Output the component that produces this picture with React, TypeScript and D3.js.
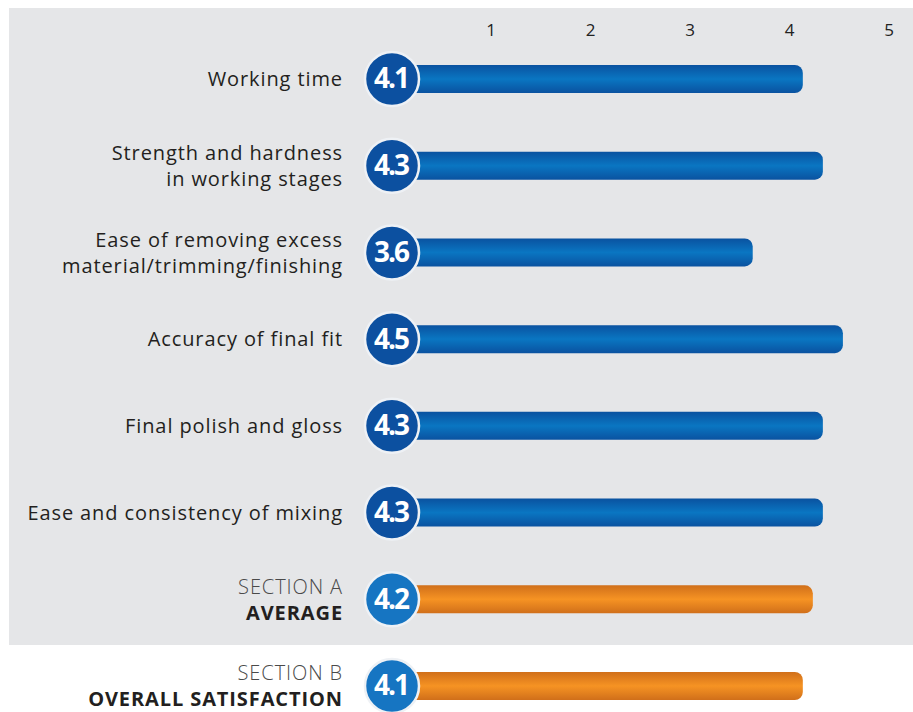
import React from "react";
import * as d3 from "d3";

const categories: string[][] = [
  ["Working time"],
  ["Strength and hardness", "in working stages"],
  ["Ease of removing excess", "material/trimming/finishing"],
  ["Accuracy of final fit"],
  ["Final polish and gloss"],
  ["Ease and consistency of mixing"],
  ["SECTION A", "AVERAGE"],
  ["SECTION B", "OVERALL SATISFACTION"],
];
const values: number[] = [4.1, 4.3, 3.6, 4.5, 4.3, 4.3, 4.2, 4.1];
const kinds: string[] = ["item", "item", "item", "item", "item", "item", "summary", "summary"];
const ticks: number[] = [1, 2, 3, 4, 5];

const W = 913;
const H = 712;
const FONT = "'Open Sans', 'DejaVu Sans', sans-serif";

export default function App() {
  const x = d3.scaleLinear().domain([0, 5]).range([392, 893]);
  const y = d3
    .scalePoint<number>()
    .domain(values.map((_, i) => i))
    .range([79, 686]);
  const barH = 28;
  const r = 27;

  return (
    <svg
      width={W}
      height={H}
      style={{ position: "absolute", left: 0, top: 0, display: "block" }}
      fontFamily={FONT}
    >
      <defs>
        <linearGradient id="gBlue" x1="0" y1="0" x2="0" y2="1">
          <stop offset="0%" stopColor="#0a52a0" />
          <stop offset="50%" stopColor="#0a76c2" />
          <stop offset="100%" stopColor="#0a52a0" />
        </linearGradient>
        <linearGradient id="gOrange" x1="0" y1="0" x2="0" y2="1">
          <stop offset="0%" stopColor="#d06f1a" />
          <stop offset="50%" stopColor="#f69323" />
          <stop offset="100%" stopColor="#d06f1a" />
        </linearGradient>
      </defs>
      <rect x={0} y={0} width={W} height={H} fill="#ffffff" />
      <rect x={9} y={8} width={W - 9} height={637} fill="#e5e6e8" />

      {ticks.map((t) => (
        <text
          key={t}
          x={x(t) - 1 - (t - 1) * 0.7}
          y={31}
          textAnchor="middle"
          dominantBaseline="middle"
          fontSize={17}
          fontWeight={500}
          fill="#222"
        >
          {t}
        </text>
      ))}

      {values.map((v, i) => {
        const cy = y(i) as number;
        const summary = kinds[i] === "summary";
        const lines = categories[i];
        const x0 = x(0);
        return (
          <g key={i}>
            <rect
              x={x0}
              y={cy - barH / 2}
              width={x(v) - x0}
              height={barH}
              rx={8}
              ry={8}
              fill={summary ? "url(#gOrange)" : "url(#gBlue)"}
            />
            <circle
              cx={x0}
              cy={cy}
              r={r}
              fill={summary ? "#1675c2" : "#0c50a0"}
              stroke="#eef1f5"
              strokeWidth={2.5}
            />
            <text
              x={x0 - 1}
              y={cy + 2}
              textAnchor="middle"
              dominantBaseline="middle"
              fontSize={28}
              fontWeight={700}
              letterSpacing={-2}
              fill="#ffffff"
            >
              {v.toFixed(1)}
            </text>
            {lines.map((ln, j) => {
              const ly = lines.length === 1 ? cy + 2 : cy - 11 + j * 26;
              let weight = 400;
              let color = "#231f20";
              if (summary) {
                weight = j === 0 ? 300 : 700;
                color = j === 0 ? "#4a4a4a" : "#231f20";
              }
              return (
                <text
                  key={j}
                  x={343}
                  y={ly}
                  textAnchor="end"
                  dominantBaseline="middle"
                  fontSize={20}
                  letterSpacing={0.9}
                  fontWeight={weight}
                  fill={color}
                >
                  {ln}
                </text>
              );
            })}
          </g>
        );
      })}
    </svg>
  );
}
